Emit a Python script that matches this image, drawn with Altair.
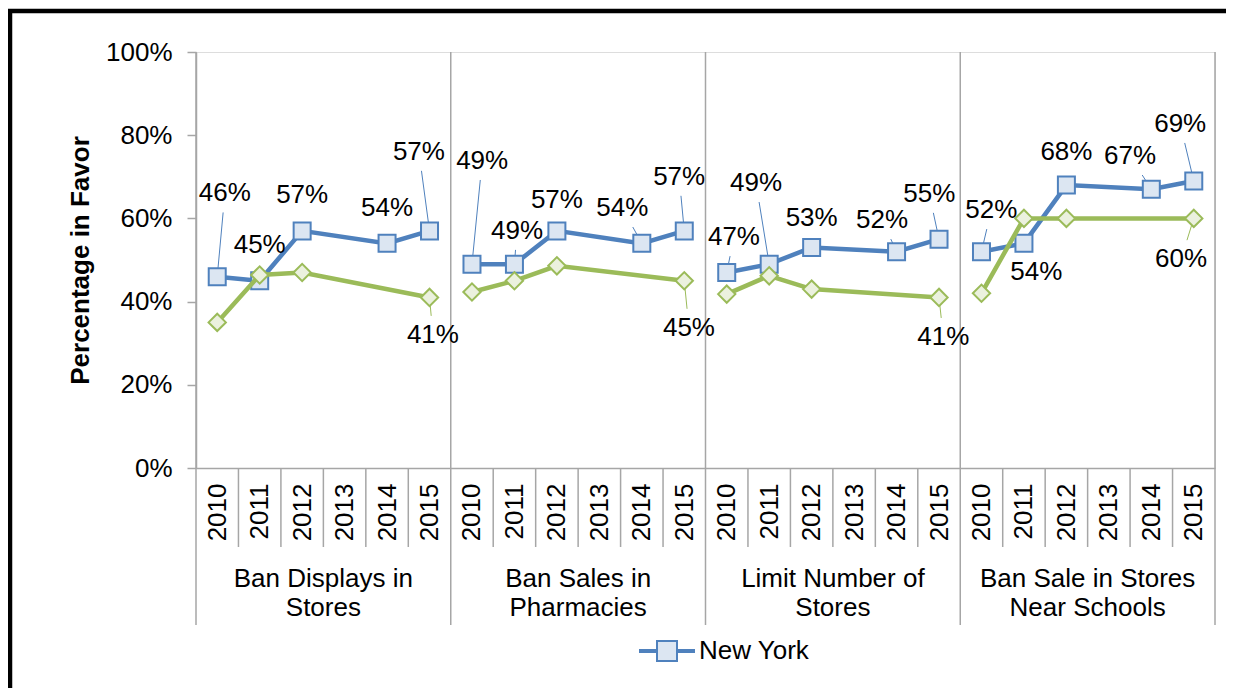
import altair as alt
import pandas as pd

# ---------------- data ----------------
categories = ["Ban Displays in Stores", "Ban Sales in Pharmacies",
              "Limit Number of Stores", "Ban Sale in Stores Near Schools"]
category_lines = ["Ban Displays in\nStores", "Ban Sales in\nPharmacies",
                  "Limit Number of\nStores", "Ban Sale in Stores\nNear Schools"]
years = ["2010", "2011", "2012", "2013", "2014", "2015"]
series_names = ["New York", "Comparison"]

ny_values = [
    [46, 45, 57, None, 54, 57],
    [49, 49, 57, None, 54, 57],
    [47, 49, 53, None, 52, 55],
    [52, 54, 68, None, 67, 69],
]
other_values = [
    [35, 46.4, 47, None, None, 41],
    [42.3, 45, 48.6, None, None, 45],
    [41.8, 46.2, 43, None, None, 41],
    [42, 60, 60, None, None, 60],
]

# label placement: offset from the point (slot units, percentage points); leader flags
ny_label_offsets = [
    [(0.18, 20), (0, 8.6), (0, 8.6), None, (0, 8.5), (-0.25, 19)],
    [(0.24, 24.8), (0.06, 8), (0, 7.4), None, (-0.46, 8.5), (-0.12, 13)],
    [(0.17, 8.5), (-0.31, 19.5), (0, 7.1), None, (-0.34, 7.6), (-0.23, 10.9)],
    [(0.23, 10), (0.29, -6.9), (0, 8), None, (-0.5, 8), (-0.32, 13.7)],
]
ny_leaders = [
    [1, 0, 0, 0, 0, 1],
    [1, 1, 0, 0, 1, 1],
    [1, 1, 0, 0, 1, 1],
    [1, 0, 0, 0, 1, 1],
]
other_label_offsets = [
    [None, None, None, None, None, (0.08, -9)],
    [None, None, None, None, None, (0.11, -11.3)],
    [None, None, None, None, None, (0.1, -9.5)],
    [None, None, None, None, None, (-0.3, -9.8)],
]
other_leaders = [[0, 0, 0, 0, 0, 1]] * 4

# ---------------- styling ----------------
W, H = 1019, 416
NSLOT = len(categories) * len(years)
SW = W / NSLOT
PH = H / 100.0
BLUE, BLUE_FILL = "#4F81BD", "#DCE6F2"
GREEN, GREEN_FILL = "#9BBB59", "#EBF1DE"
GRAY = "#A6A6A6"
FONT = "Liberation Sans"
FS = 26

# ---------------- tables ----------------
pts, labels, leaders = [], [], []
for p, cat in enumerate(categories):
    for s_i, (vals, offs, lead) in enumerate([
            (ny_values, ny_label_offsets, ny_leaders),
            (other_values, other_label_offsets, other_leaders)]):
        for j, yr in enumerate(years):
            v = vals[p][j]
            if v is None:
                continue
            u = p * len(years) + j + 0.5
            pts.append(dict(category=cat, year=yr, series=series_names[s_i], u=u, v=v))
            off = offs[p][j]
            if off is None:
                continue
            du, dv = off
            labels.append(dict(series=series_names[s_i], u=u + du, v=v + dv,
                               text=f"{round(v)}%"))
            if lead[p][j]:
                vx, vy = -du * SW, dv * PH
                cands = []
                if abs(vx) > 0:
                    cands.append(30 / abs(vx))
                if abs(vy) > 0:
                    cands.append(19 / abs(vy))
                t = min(cands)
                if t < 1:
                    leaders.append(dict(series=series_names[s_i], u=u, v=v,
                                        u2=u + du * (1 - t), v2=v + dv * (1 - t)))

pts = pd.DataFrame(pts)
labels = pd.DataFrame(labels)
leaders = pd.DataFrame(leaders)

cat_df = pd.DataFrame({"u": [p * len(years) + len(years) / 2 for p in range(len(categories))],
                       "label": category_lines})
cat_sep = pd.DataFrame({"u": [p * len(years) for p in range(len(categories) + 1)]})
year_sep = pd.DataFrame({"u": [i for i in range(1, NSLOT) if i % len(years) != 0]})
dummy = pd.DataFrame({"k": [0]})

year_js = "[" + ",".join(f"'{y}'" for y in years) + "]"
x_scale = alt.Scale(domain=[0, NSLOT], nice=False, zero=False)
y_scale = alt.Scale(domain=[0, 100], nice=False)
x_axis = alt.Axis(values=[i + 0.5 for i in range(NSLOT)],
                  labelExpr=f"{year_js}[floor(datum.value) % {len(years)}]",
                  labelAngle=270, labelPadding=15, ticks=False, tickSize=0,
                  grid=False, domain=True, domainColor=GRAY, domainWidth=1.5,
                  labelFontSize=FS, labelColor="black", labelFont=FONT, title=None)
y_axis = alt.Axis(values=[0, 20, 40, 60, 80, 100], labelExpr="datum.value + '%'",
                  tickSize=9, tickColor=GRAY, tickWidth=1.5, labelPadding=15,
                  domainColor=GRAY, domainWidth=1.5, grid=False,
                  labelFontSize=FS, labelColor="black", labelFont=FONT,
                  title="Percentage in Favor", titleFontSize=FS, titleFontWeight="bold",
                  titleColor="black", titleFont=FONT, titlePadding=12)


def X(f):
    return alt.X(f, type="quantitative", scale=x_scale, axis=x_axis)


def Y(f):
    return alt.Y(f, type="quantitative", scale=y_scale, axis=y_axis)


color_scale = alt.Scale(domain=series_names, range=[BLUE, GREEN])
legend = alt.Legend(values=["New York"], orient="none", legendX=450, legendY=578, title=None,
                    symbolType="M-1.4,-0.05H-0.5M-1.4,0.05H-0.5M0.5,-0.05H1.4M0.5,0.05H1.4"
                               "M-0.5,-0.5H0.5V0.5H-0.5Z",
                    symbolSize=1600, symbolStrokeWidth=2, symbolFillColor=BLUE_FILL,
                    labelFontSize=FS, labelFont=FONT, labelColor="black",
                    labelOffset=11, padding=0)

cat_rules = alt.Chart(cat_sep).mark_rule(color=GRAY, strokeWidth=1.5).encode(
    x=X("u"), y=alt.value(0), y2=alt.value(573))
year_rules = alt.Chart(year_sep).mark_rule(color=GRAY, strokeWidth=1.5).encode(
    x=X("u"), y=alt.value(H), y2=alt.value(495))
cat_text = alt.Chart(cat_df).mark_text(fontSize=FS, font=FONT, color="black",
                                       lineBreak="\n", lineHeight=29,
                                       baseline="alphabetic", align="center").encode(
    x=X("u"), y=alt.value(535), text="label:N")

lead = alt.Chart(leaders).mark_rule(strokeWidth=1).encode(
    x=X("u"), y=Y("v"), x2="u2:Q", y2="v2:Q",
    color=alt.condition(alt.datum.series == "New York", alt.value(BLUE), alt.value(GREEN)))

ny_line = alt.Chart(pts).transform_filter(alt.datum.series == "New York").mark_line(
    strokeWidth=4.5).encode(
    x=X("u"), y=Y("v"), detail="category:N",
    color=alt.Color("series:N", scale=color_scale, legend=legend))
ny_pts = alt.Chart(pts).transform_filter(alt.datum.series == "New York").mark_point(
    shape="square", size=289, filled=True, fill=BLUE_FILL, stroke=BLUE, strokeWidth=2,
    opacity=1).encode(x=X("u"), y=Y("v"))
ot_line = alt.Chart(pts).transform_filter(alt.datum.series != "New York").mark_line(
    strokeWidth=4.5).encode(
    x=X("u"), y=Y("v"), detail="category:N",
    color=alt.Color("series:N", scale=color_scale, legend=legend))
ot_pts = alt.Chart(pts).transform_filter(alt.datum.series != "New York").mark_point(
    shape="diamond", size=300, filled=True, fill=GREEN_FILL, stroke=GREEN, strokeWidth=2,
    opacity=1).encode(x=X("u"), y=Y("v"))

lab = alt.Chart(labels).mark_text(fontSize=FS, font=FONT, color="black",
                                  baseline="middle", align="center").encode(
    x=X("u"), y=Y("v"), text="text:N")

border_top = alt.Chart(dummy).mark_rule(color="black", strokeWidth=4.5).encode(
    x=alt.value(-190), x2=alt.value(1040), y=alt.value(-41))
border_left = alt.Chart(dummy).mark_rule(color="black", strokeWidth=4.5).encode(
    x=alt.value(-186), y=alt.value(-43), y2=alt.value(640))

chart = alt.layer(
    cat_rules, year_rules, cat_text, lead, ny_line, ny_pts, ot_line, ot_pts, lab,
    border_top, border_left
).properties(
    width=W, height=H,
    padding={"left": 188, "top": 44, "right": 11, "bottom": 220},
    autosize=alt.AutoSizeParams(type="none"),
).configure_view(stroke=GRAY, strokeWidth=1.5).configure(font=FONT)

chart.save("out.html", embed_options={"renderer": "svg", "actions": False})
